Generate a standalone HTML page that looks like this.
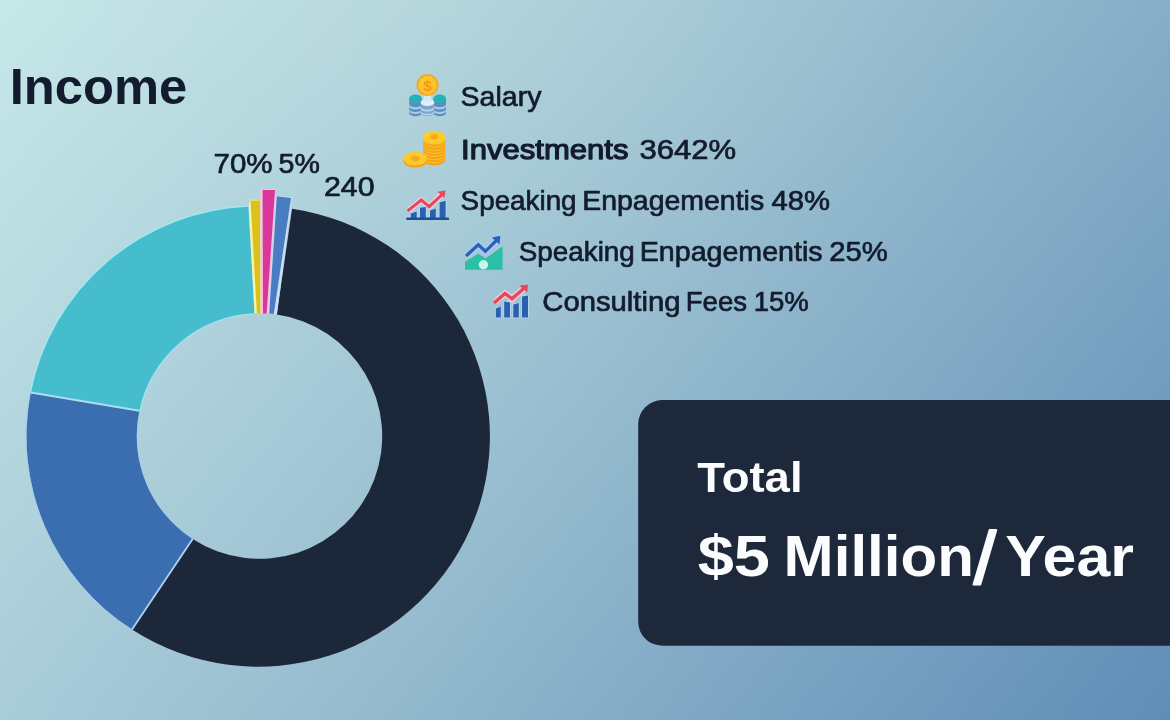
<!DOCTYPE html>
<html lang="en">
<head>
<meta charset="utf-8">
<title>Income</title>
<style>
  html, body { margin:0; padding:0; width:1170px; height:720px; overflow:hidden; }
  body { background: radial-gradient(ellipse 460px 300px at 450px 0px, rgba(215,235,215,0.12), rgba(215,235,215,0) 100%), linear-gradient(129.5deg, #c7e8e9 0%, #99bed0 50%, #608db7 100%); }
  svg { display:block; position:absolute; left:0; top:0; }
  svg text { font-family: "Liberation Sans", Arial, Helvetica, sans-serif; }
</style>
</head>
<body>
<svg width="1170" height="720" viewBox="0 0 1170 720">
  <g style="filter: blur(0.55px)">
  <!-- total card -->
  <path d="M1200 400.1 H662.2 A24 24 0 0 0 638.2 424.1 V621.7 A24 24 0 0 0 662.2 645.7 H1200 Z" fill="#1d283b"/>
  <!-- donut -->
  <g>
    <path d="M30.76 392.58 A231.7 230.2 0 0 1 248.50 206.50 L254.36 313.51 A122.7 122.7 0 0 0 139.44 410.80 Z" fill="#46bdcd"/>
  <path d="M132.01 629.56 A231.7 230.2 0 0 1 30.76 392.58 L139.44 410.80 A122.7 122.7 0 0 0 192.67 539.00 Z" fill="#3b6db1"/>
  <path d="M292.05 208.77 A231.7 230.2 0 1 1 132.01 629.56 L192.67 539.00 A122.7 122.7 0 1 0 276.79 314.62 Z" fill="#1d273a"/>
  <line x1="30.76" y1="392.58" x2="139.44" y2="410.80" stroke="#aadff1" stroke-width="2.0"/>
  <line x1="132.01" y1="629.56" x2="192.67" y2="539.00" stroke="#b0d4f0" stroke-width="1.8"/>
  <path d="M30.17 392.46 A232.3 230.8 0 0 1 247.66 205.94" fill="none" stroke="#a4e6f2" stroke-width="1.6" stroke-opacity="0.9"/>
  <path d="M131.68 630.07 A232.3 230.8 0 0 1 30.17 392.46" fill="none" stroke="#a9cdec" stroke-width="1.4" stroke-opacity="0.6"/>
  <path d="M139.93 410.90 A122.2 122.2 0 0 1 253.96 314.03" fill="none" stroke="#a4e6f2" stroke-width="1.4" stroke-opacity="0.7"/>
  <path d="M192.95 538.59 A122.2 122.2 0 0 1 139.93 410.90" fill="none" stroke="#a9cdec" stroke-width="1.2" stroke-opacity="0.5"/>
  <polygon points="248.6,206.5 250.2,199.8 260.4,199.8 261.0,313.2 254.6,313.2" fill="#f3f5a8"/>
  <polygon points="250.6,200.4 260.0,200.4 260.6,313.2 256.9,313.2" fill="#dcc11d"/>
  <polygon points="260.4,189.2 275.6,189.2 269.2,313.4 260.6,313.4" fill="#f7c4dc"/>
  <polygon points="262.6,190.0 275.0,190.0 266.6,313.4 263.0,313.4" fill="#d8379b"/>
  <polygon points="275.8,195.2 292.2,197.4 276.9,314.6 268.6,313.6" fill="#c9e0f8"/>
  <polygon points="276.8,196.2 291.0,198.0 273.8,314.0 269.2,313.6" fill="#4a7cc2"/>
  </g>
  <!-- icons -->
  
<g>
  <!-- left stack -->
  <path d="M409.2 99 V113 A6.3 3.2 0 0 0 421.8 113 V99 Z" fill="#5b8ec2"/>
  <path d="M409.2 104.2 A6.3 3 0 0 0 421.8 104.2 V106.4 A6.3 3 0 0 1 409.2 106.4 Z" fill="#a9cbe6"/>
  <path d="M409.2 109 A6.3 3 0 0 0 421.8 109 V111 A6.3 3 0 0 1 409.2 111 Z" fill="#a9cbe6"/>
  <ellipse cx="415.5" cy="98.6" rx="6.4" ry="4.2" fill="#22b3b6"/>
  <!-- right stack -->
  <path d="M433.4 99 V113 A6.3 3.2 0 0 0 446 113 V99 Z" fill="#5b8ec2"/>
  <path d="M433.4 104.2 A6.3 3 0 0 0 446 104.2 V106.4 A6.3 3 0 0 1 433.4 106.4 Z" fill="#a9cbe6"/>
  <path d="M433.4 109 A6.3 3 0 0 0 446 109 V111 A6.3 3 0 0 1 433.4 111 Z" fill="#a9cbe6"/>
  <ellipse cx="439.7" cy="98.6" rx="6.4" ry="4.2" fill="#22b3b6"/>
  <!-- middle stack -->
  <path d="M420.6 103.5 V113.2 A6.9 3 0 0 0 434.4 113.2 V103.5 Z" fill="#7fa4cf"/>
  <path d="M420.6 106.6 A6.9 3 0 0 0 434.4 106.6 V108.6 A6.9 3 0 0 1 420.6 108.6 Z" fill="#b5d3ea"/>
  <path d="M420.6 110.8 A6.9 3 0 0 0 434.4 110.8 V112.4 A6.9 3 0 0 1 420.6 112.4 Z" fill="#b5d3ea"/>
  <ellipse cx="427.5" cy="102.6" rx="6.9" ry="3.4" fill="#e4eef8"/>
  <rect x="423.6" y="94" width="7.8" height="8" fill="#d6e8f1"/>
  <!-- coin -->
  <circle cx="427.5" cy="85" r="11" fill="#f3a91f"/>
  <circle cx="427.5" cy="85" r="9.2" fill="#fec331"/>
  <text x="427.5" y="90.6" font-size="15.5" font-weight="700" fill="#f09a12" text-anchor="middle">$</text>
</g>
<g>
  <ellipse cx="434.2" cy="159.79999999999998" rx="11.2" ry="5.6" fill="#f5a31a"/><ellipse cx="434.2" cy="157.6" rx="11.2" ry="5.6" fill="#fdc62b"/><ellipse cx="434.2" cy="156.7" rx="11.2" ry="5.6" fill="#f5a31a"/><ellipse cx="434.2" cy="154.5" rx="11.2" ry="5.6" fill="#fdc62b"/><ellipse cx="434.2" cy="153.6" rx="11.2" ry="5.6" fill="#f5a31a"/><ellipse cx="434.2" cy="151.4" rx="11.2" ry="5.6" fill="#fdc62b"/><ellipse cx="434.2" cy="150.5" rx="11.2" ry="5.6" fill="#f5a31a"/><ellipse cx="434.2" cy="148.3" rx="11.2" ry="5.6" fill="#fdc62b"/><ellipse cx="434.2" cy="147.39999999999998" rx="11.2" ry="5.6" fill="#f5a31a"/><ellipse cx="434.2" cy="145.2" rx="11.2" ry="5.6" fill="#fdc62b"/><ellipse cx="434.2" cy="144.29999999999998" rx="11.2" ry="5.6" fill="#f5a31a"/><ellipse cx="434.2" cy="142.1" rx="11.2" ry="5.6" fill="#fdc62b"/><ellipse cx="434.2" cy="141.2" rx="11.2" ry="5.6" fill="#f5a31a"/><ellipse cx="434.2" cy="139.0" rx="11.2" ry="5.6" fill="#fdc62b"/>
  <ellipse cx="434.2" cy="136.8" rx="11.2" ry="6" fill="#fccb2c"/>
  <ellipse cx="434.2" cy="136.8" rx="4" ry="2.6" fill="#f6a91d"/>
  <ellipse cx="415.2" cy="161" rx="11.8" ry="6.6" fill="#f5a31a"/>
  <ellipse cx="415.2" cy="158.6" rx="11.8" ry="6.8" fill="#fdc92b"/>
  <ellipse cx="415.2" cy="158.6" rx="4.2" ry="2.8" fill="#f6a91d"/>
</g>
<g>
  <polyline points="408.6,210.1 421.3,200.1 429.2,206.6 442.8,193.8" fill="none" stroke="#f3d3dc" stroke-width="5.6" stroke-linejoin="miter"/>
  <g fill="#b4d3f0">
    <polygon points="409.8,213 417.7,210.2 417.7,218 409.8,218"/>
    <polygon points="419,207.2 426.8,206 426.8,218 419,218"/>
    <polygon points="429,210 436.8,207.6 436.8,218 429,218"/>
    <polygon points="438.6,202 446.6,199.6 446.6,218 438.6,218"/>
  </g>
  <g fill="#2a60ad">
    <polygon points="410.8,213.6 416.7,211.4 416.7,218 410.8,218"/>
    <polygon points="420,207.8 425.8,207 425.8,218 420,218"/>
    <polygon points="430,210.4 435.8,208.6 435.8,218 430,218"/>
    <polygon points="439.6,202.6 445.6,200.8 445.6,218 439.6,218"/>
  </g>
  <rect x="406.2" y="217.4" width="43" height="2.7" rx="1.2" fill="#1f4e97"/>
  <polyline points="408.6,210.1 421.3,200.1 429.2,206.6 442.8,193.8" fill="none" stroke="#e8455e" stroke-width="3.1" stroke-linecap="round" stroke-linejoin="miter"/>
  <polygon points="437.6,191.8 445.5,190.5 444.4,198.0" fill="#e8455e"/>
</g>
<g>
  <polygon points="465,261.8 478.3,253.8 485.8,258.4 502.6,246.2 502.6,269.8 465,269.8" fill="#2bbfa6"/>
  <polyline points="467.1,255 478.3,244.7 485.4,251.3 497,239.8" fill="none" stroke="#a9cdf3" stroke-width="6.4" stroke-linejoin="miter"/>
  <polygon points="490.6,236.8 501.4,234.8 500.4,246" fill="#a9cdf3"/>
  <circle cx="483.4" cy="264.8" r="4.7" fill="#c9f6ea"/>
  <polyline points="467.1,255 478.3,244.7 485.4,251.3 497,239.8" fill="none" stroke="#2a62b3" stroke-width="3.3" stroke-linecap="round" stroke-linejoin="miter"/>
  <polygon points="491.8,237.4 500.4,235.8 499.6,244.6" fill="#2a62b3"/>
</g>
<g>
  <g fill="#b4d3f0">
    <rect x="494.8" y="306.6" width="7" height="11.8"/>
    <rect x="503.2" y="300.8" width="7.8" height="17.6"/>
    <rect x="512.3" y="302.8" width="7.5" height="15.6"/>
    <rect x="521" y="294.8" width="8" height="23.6"/>
  </g>
  <polyline points="495.2,302 505,293.4 512,298.8 524.6,287.8" fill="none" stroke="#f1cfd9" stroke-width="6.2" stroke-linejoin="miter"/>
  <g fill="#2a60ad">
    <polygon points="495.8,308.6 500.8,306.6 500.8,317.6 495.8,317.6"/>
    <polygon points="504.2,301.6 510,302.4 510,317.6 504.2,317.6"/>
    <polygon points="513.3,304.4 518.8,303 518.8,317.6 513.3,317.6"/>
    <polygon points="522,296.6 528,295.4 528,317.6 522,317.6"/>
  </g>
  <polyline points="495.2,302 505,293.4 512,298.8 524.6,287.8" fill="none" stroke="#e8455e" stroke-width="3.4" stroke-linecap="round" stroke-linejoin="miter"/>
  <polygon points="519.2,285.4 528,284.8 527.2,292.6" fill="#e8455e"/>
</g>
  <!-- text -->
  <g>
    <text y="103.5" fill="#131c2e" font-size="49.3"><tspan x="9.72" y="103.5" font-size="49.3" font-weight="700" textLength="177.42" lengthAdjust="spacingAndGlyphs">Income</tspan></text>
  <text y="173.3" fill="#131c2e" font-size="28"><tspan x="213.55" y="173.3" font-size="28" font-weight="400" stroke="#131c2e" stroke-width="0.7" stroke-linejoin="round" textLength="59.06" lengthAdjust="spacingAndGlyphs">70%</tspan> <tspan x="278.58" y="173.3" font-size="28" font-weight="400" stroke="#131c2e" stroke-width="0.7" stroke-linejoin="round" textLength="41.3" lengthAdjust="spacingAndGlyphs">5%</tspan></text>
  <text y="196.0" fill="#131c2e" font-size="28"><tspan x="323.92" y="196.0" font-size="28" font-weight="400" stroke="#131c2e" stroke-width="0.7" stroke-linejoin="round" textLength="50.66" lengthAdjust="spacingAndGlyphs">240</tspan></text>
  <text y="106.4" fill="#131c2e" font-size="28.5"><tspan x="460.6" y="106.4" font-size="28.5" font-weight="400" stroke="#131c2e" stroke-width="0.7" stroke-linejoin="round" textLength="80.8" lengthAdjust="spacingAndGlyphs">Salary</tspan></text>
  <text y="159.2" fill="#131c2e" font-size="28.3"><tspan x="461.11" y="159.2" font-size="28.3" font-weight="400" stroke="#131c2e" stroke-width="1.25" stroke-linejoin="round" textLength="167.31" lengthAdjust="spacingAndGlyphs">Investments</tspan> <tspan x="639.5" y="159.2" font-size="28.3" font-weight="400" stroke="#131c2e" stroke-width="0.7" stroke-linejoin="round" textLength="96.73" lengthAdjust="spacingAndGlyphs">3642%</tspan></text>
  <text y="210.3" fill="#131c2e" font-size="28.3"><tspan x="460.62" y="210.3" font-size="28.3" font-weight="400" stroke="#131c2e" stroke-width="0.7" stroke-linejoin="round" textLength="115.97" lengthAdjust="spacingAndGlyphs">Speaking</tspan> <tspan x="582.19" y="210.3" font-size="28.3" font-weight="400" stroke="#131c2e" stroke-width="0.7" stroke-linejoin="round" textLength="181.92" lengthAdjust="spacingAndGlyphs">Enpagementis</tspan> <tspan x="771.5" y="210.3" font-size="28.3" font-weight="400" stroke="#131c2e" stroke-width="0.7" stroke-linejoin="round" textLength="58.56" lengthAdjust="spacingAndGlyphs">48%</tspan></text>
  <text y="260.5" fill="#131c2e" font-size="28.3"><tspan x="518.72" y="260.5" font-size="28.3" font-weight="400" stroke="#131c2e" stroke-width="0.7" stroke-linejoin="round" textLength="116.07" lengthAdjust="spacingAndGlyphs">Speaking</tspan> <tspan x="639.78" y="260.5" font-size="28.3" font-weight="400" stroke="#131c2e" stroke-width="0.7" stroke-linejoin="round" textLength="182.84" lengthAdjust="spacingAndGlyphs">Enpagementis</tspan> <tspan x="829.27" y="260.5" font-size="28.3" font-weight="400" stroke="#131c2e" stroke-width="0.7" stroke-linejoin="round" textLength="58.6" lengthAdjust="spacingAndGlyphs">25%</tspan></text>
  <text y="310.6" fill="#131c2e" font-size="28.3"><tspan x="542.27" y="310.6" font-size="28.3" font-weight="400" stroke="#131c2e" stroke-width="0.7" stroke-linejoin="round" textLength="138.21" lengthAdjust="spacingAndGlyphs">Consulting</tspan> <tspan x="685.75" y="310.6" font-size="28.3" font-weight="400" stroke="#131c2e" stroke-width="0.7" stroke-linejoin="round" textLength="61.35" lengthAdjust="spacingAndGlyphs">Fees</tspan> <tspan x="753.65" y="310.6" font-size="28.3" font-weight="400" stroke="#131c2e" stroke-width="0.7" stroke-linejoin="round" textLength="55.17" lengthAdjust="spacingAndGlyphs">15%</tspan></text>
  <text y="492.2" fill="#fbfcfd" font-size="43"><tspan x="697.3" y="492.2" font-size="43" font-weight="700" textLength="105.23" lengthAdjust="spacingAndGlyphs">Total</tspan></text>
  <text y="575.5" fill="#fbfcfd" font-size="57.6"><tspan x="697.67" y="575.5" font-size="57.6" font-weight="700" textLength="72.25" lengthAdjust="spacingAndGlyphs">$5</tspan> <tspan x="783.62" y="575.5" font-size="57.6" font-weight="700" textLength="190.37" lengthAdjust="spacingAndGlyphs">Million</tspan><tspan x="973.67" y="584.2" font-size="75" font-weight="400" stroke="#fbfcfd" stroke-width="2.2" stroke-linejoin="round" textLength="22.29" lengthAdjust="spacingAndGlyphs">/</tspan> <tspan x="1005.34" y="575.5" font-size="57.6" font-weight="700" textLength="128.62" lengthAdjust="spacingAndGlyphs">Year</tspan></text>
  </g>
  </g>
</svg>
</body>
</html>
